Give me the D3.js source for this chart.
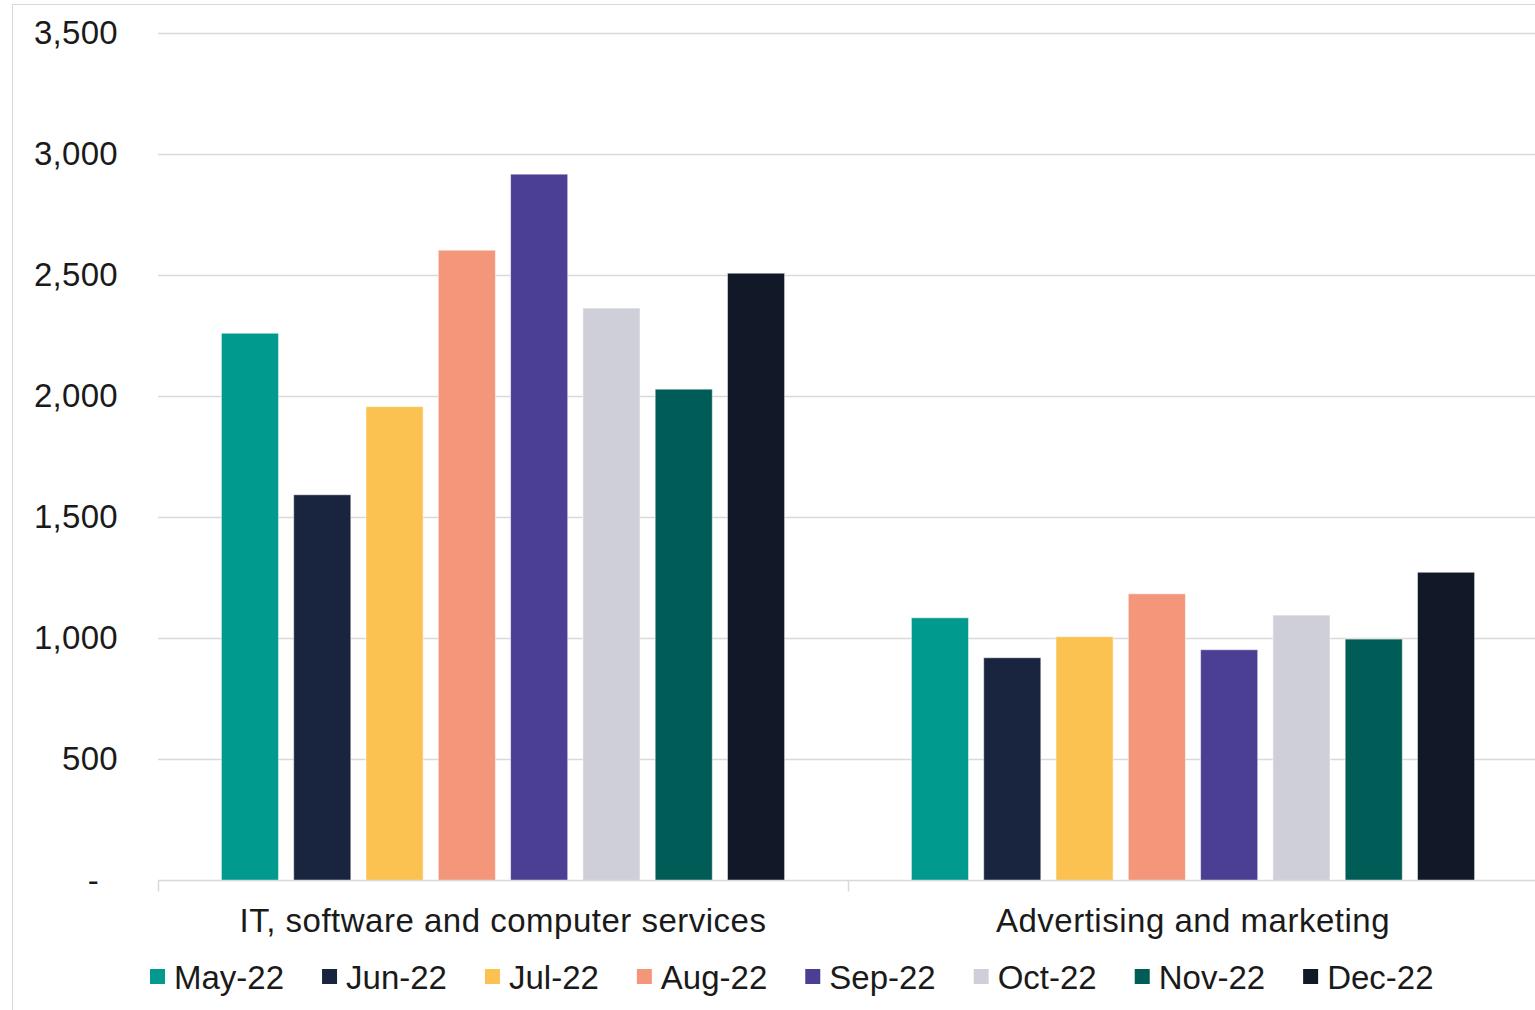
<!DOCTYPE html>
<html>
<head>
<meta charset="utf-8">
<script src="https://cdn.jsdelivr.net/npm/d3@7"></script>
<style>
  html, body { margin: 0; padding: 0; background: #fff; }
  svg { display: block; font-family: "Liberation Sans", Arial, sans-serif; }
</style>
</head>
<body>
<svg id="chart" width="1535" height="1010"></svg>
<script>
const categories = ["IT, software and computer services", "Advertising and marketing"];
const months = ["May-22", "Jun-22", "Jul-22", "Aug-22", "Sep-22", "Oct-22", "Nov-22", "Dec-22"];
const itValues = [2260, 1593, 1957, 2603, 2917, 2364, 2029, 2508];
const adValues = [1085, 920, 1007, 1184, 953, 1096, 997, 1273];
const colors = ["#009A8F", "#19253F", "#FBC251", "#F3967A", "#4A3F93", "#CFCFD9", "#005C56", "#111827"];
const yTicks = [0, 500, 1000, 1500, 2000, 2500, 3000, 3500];

const seriesByCategory = [itValues, adValues];
const data = categories.map((c, i) => ({
  category: c,
  values: months.map((m, j) => ({ month: m, value: seriesByCategory[i][j] }))
}));

const svg = d3.select("#chart");

// outer border
svg.append("rect")
  .attr("x", 12.5).attr("y", 4.5)
  .attr("width", 1600).attr("height", 1100)
  .attr("fill", "none").attr("stroke", "#d9d9d9").attr("stroke-width", 1);

const plotLeft = 158, plotRight = 1538, plotTop = 33, plotBottom = 880.5;

const y = d3.scaleLinear().domain([0, 3500]).range([plotBottom, plotTop]);
const x0 = d3.scaleBand().domain(categories).range([plotLeft, plotRight]).padding(0);
const x1 = d3.scaleBand().domain(months).range([0, x0.bandwidth()])
  .paddingInner(0.21).paddingOuter(0.877);
const color = d3.scaleOrdinal().domain(months).range(colors);

// gridlines
svg.append("g")
  .selectAll("line")
  .data(yTicks.filter(d => d > 0))
  .join("line")
  .attr("x1", plotLeft).attr("x2", plotRight)
  .attr("y1", d => Math.round(y(d)) + 0.5).attr("y2", d => Math.round(y(d)) + 0.5)
  .attr("stroke", "#d9d9d9").attr("stroke-width", 1.3);

// y axis labels
const yAxis = svg.append("g")
  .attr("transform", `translate(${plotLeft},0)`)
  .call(d3.axisLeft(y).tickValues(yTicks).tickSize(0).tickPadding(40)
    .tickFormat(d => d === 0 ? "-" : d3.format(",")(d)));
yAxis.select(".domain").remove();
yAxis.selectAll("text")
  .attr("font-size", 33)
  .attr("font-family", "'Liberation Sans', Arial, sans-serif")
  .attr("fill", "#1a1a1a")
  .attr("letter-spacing", 0.3)
  .attr("dx", d => d === 0 ? -19 : 0);

// bars
const groups = svg.append("g")
  .selectAll("g")
  .data(data)
  .join("g")
  .attr("transform", d => `translate(${x0(d.category)},0)`);

groups.selectAll("rect")
  .data(d => d.values)
  .join("rect")
  .attr("x", d => x1(d.month))
  .attr("width", x1.bandwidth())
  .attr("y", d => y(d.value))
  .attr("height", d => y(0) - y(d.value))
  .attr("fill", d => color(d.month))
  .attr("stroke", "rgba(255,255,255,0.5)")
  .attr("stroke-width", 1);

// x axis
const xAxis = svg.append("g")
  .attr("transform", `translate(0,${plotBottom})`);
xAxis.append("line")
  .attr("x1", plotLeft).attr("x2", plotRight)
  .attr("y1", 0).attr("y2", 0)
  .attr("stroke", "#d9d9d9").attr("stroke-width", 1.5);
const boundaries = [plotLeft].concat(categories.map(c => x0(c) + x0.bandwidth()));
xAxis.selectAll("line.tick")
  .data(boundaries)
  .join("line")
  .attr("class", "tick")
  .attr("x1", d => d + 0.5).attr("x2", d => d + 0.5)
  .attr("y1", 0).attr("y2", 11)
  .attr("stroke", "#d9d9d9").attr("stroke-width", 1.5);
xAxis.selectAll("text")
  .data(categories)
  .join("text")
  .attr("x", d => x0(d) + x0.bandwidth() / 2)
  .attr("y", 51)
  .attr("text-anchor", "middle")
  .attr("font-size", 33)
  .attr("letter-spacing", 0.5)
  .attr("fill", "#1a1a1a")
  .text(d => d);

// legend
const legend = svg.append("g").attr("transform", "translate(150,0)");
let lx = 0;
months.forEach((m, i) => {
  const g = legend.append("g").attr("transform", `translate(${lx},0)`);
  g.append("rect")
    .attr("x", 0).attr("y", 969)
    .attr("width", 15).attr("height", 15)
    .attr("fill", colors[i]);
  const t = g.append("text")
    .attr("x", 24).attr("y", 989)
    .attr("font-size", 33)
    .attr("fill", "#1a1a1a")
    .text(m);
  lx += 24 + t.node().getComputedTextLength() + 38;
});
</script>
</body>
</html>
